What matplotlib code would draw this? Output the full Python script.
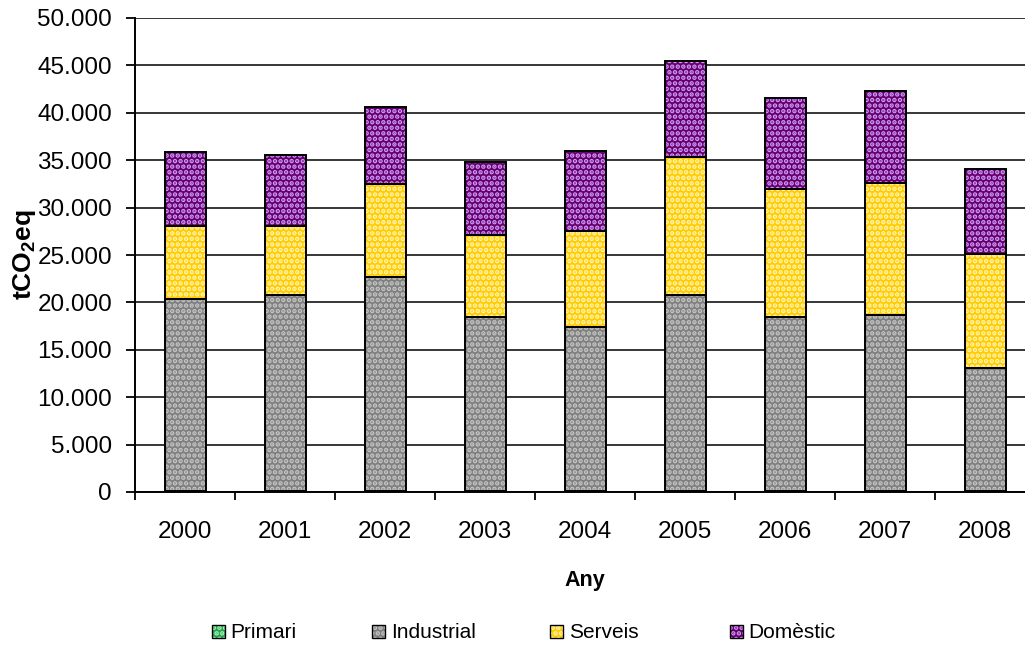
import numpy as np
import matplotlib
matplotlib.use("Agg")
import matplotlib.pyplot as plt
from matplotlib.patches import Patch
from matplotlib.ticker import FuncFormatter, FixedLocator

plt.rcParams['font.family'] = ['Liberation Sans', 'DejaVu Sans']
plt.rcParams['mathtext.fontset'] = 'custom'
plt.rcParams['mathtext.rm'] = 'Liberation Sans'
plt.rcParams['mathtext.bf'] = 'Liberation Sans:bold'
plt.rcParams['hatch.linewidth'] = 2.3

years = ['2000', '2001', '2002', '2003', '2004', '2005', '2006', '2007', '2008']
primari = [60, 60, 60, 60, 60, 60, 60, 60, 60]
industrial = [20250, 20750, 22650, 18450, 17350, 20750, 18450, 18650, 13000]
serveis = [7800, 7300, 9750, 8650, 10150, 14500, 13450, 13900, 12050]
domestic = [7800, 7450, 8150, 7600, 8400, 10200, 9550, 9700, 8950]

series = ['Primari', 'Industrial', 'Serveis', 'Domèstic']
values = [primari, industrial, serveis, domestic]
# fill colour, dot colour
colours = [('#339966', '#99ff99'), ('#808080', '#c4c4c4'),
           ('#ffcc00', '#fff4b8'), ('#660066', '#cc99ff')]

fig = plt.figure(figsize=(10.25, 6.6), dpi=100)
ax = fig.add_axes([135 / 1025, 1 - 492 / 660, 900 / 1025, 474 / 660])

x = np.arange(len(years))
width = 0.41
bottom = np.zeros(len(years))
for name, vals, (fc, dc) in zip(series, values, colours):
    vals = np.array(vals, dtype=float)
    ax.bar(x, vals, width, bottom=bottom, color=fc, edgecolor=dc,
           hatch='...', linewidth=0, zorder=3)
    ax.bar(x, vals, width, bottom=bottom, fill=False, edgecolor='black',
           linewidth=1.4, zorder=4)
    bottom += vals

ax.set_xlim(-0.5, len(years) - 0.5)
ax.set_ylim(0, 50000)
ax.yaxis.set_major_locator(FixedLocator(np.arange(0, 50001, 5000)))
ax.yaxis.set_major_formatter(FuncFormatter(lambda v, p: f'{int(v):,}'.replace(',', '.')))
ax.grid(axis='y', color='black', linewidth=1.1, zorder=0)
ax.set_axisbelow(True)

ax.set_xticks(np.arange(-0.5, len(years)), labels=[''] * (len(years) + 1))
ax.set_xticks(x, labels=years, minor=True)
ax.tick_params(axis='x', which='major', length=6, width=1.3, direction='out')
ax.tick_params(axis='x', which='minor', length=0, pad=21, labelsize=17.5)
ax.tick_params(axis='y', length=6.5, width=1.3, direction='out', labelsize=17.5, pad=10)

for side in ['top', 'right']:
    ax.spines[side].set_visible(False)
for side in ['left', 'bottom']:
    ax.spines[side].set_linewidth(1.4)
    ax.spines[side].set_zorder(5)

ax.set_xlabel('Any', fontsize=15.5, fontweight='bold', labelpad=19)
ax.set_ylabel(r'$\mathbf{tCO_2eq}$', fontsize=19)
ax.yaxis.set_label_coords(-97 / 900, 0.5)

# one legend per entry so the spacing can follow the original layout
legend_x = [212, 372, 550, 730]
for lx, name, (fc, dc) in zip(legend_x, series, colours):
    h = Patch(facecolor=fc, edgecolor='black', hatch='...', linewidth=1.0)
    h._hatch_color = matplotlib.colors.to_rgba(dc)
    fig.legend([h], [name], loc='center left', bbox_to_anchor=(lx / 1025, 1 - 633 / 660),
               frameon=False, fontsize=15, handlelength=0.6, handleheight=0.6,
               handletextpad=0.3, borderpad=0, borderaxespad=0)

fig.savefig('out.png', dpi=100)
